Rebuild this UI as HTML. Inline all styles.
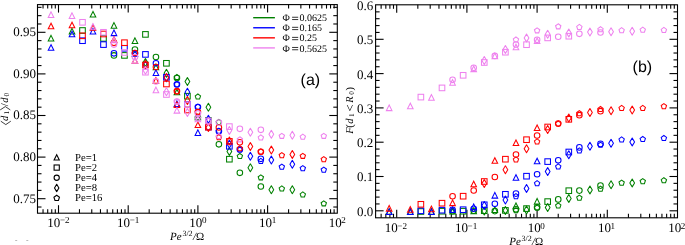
<!DOCTYPE html>
<html><head><meta charset="utf-8"><style>
html,body{margin:0;padding:0;background:#fff;}
body{width:685px;height:245px;overflow:hidden;}
svg{display:block;will-change:transform;}
text{font-family:"Liberation Serif", serif;fill:#000;text-rendering:geometricPrecision;}
.tk{font-size:13px;}
.tkl{font-size:13px;}
.sup{font-size:9.1px;}
.leg{font-size:10px;}
.leg2{font-size:10.7px;}
.pl{font-family:"Liberation Sans", sans-serif;font-size:16px;}
.xl{font-size:11px;}
.xs{font-size:8px;}
.yl{font-size:11.3px;}
.sub{font-size:8px;}
</style></head><body>
<svg width="685" height="245" viewBox="0 0 685 245">
<rect width="685" height="245" fill="#fff"/>
<rect x="37.50" y="4.60" width="299.80" height="208.60" fill="none" stroke="#000" stroke-width="1.1"/>
<line x1="43.04" y1="213.20" x2="43.04" y2="209.20" stroke="#000" stroke-width="1.1"/>
<line x1="43.04" y1="4.60" x2="43.04" y2="8.60" stroke="#000" stroke-width="1.1"/>
<line x1="47.70" y1="213.20" x2="47.70" y2="209.20" stroke="#000" stroke-width="1.1"/>
<line x1="47.70" y1="4.60" x2="47.70" y2="8.60" stroke="#000" stroke-width="1.1"/>
<line x1="51.75" y1="213.20" x2="51.75" y2="209.20" stroke="#000" stroke-width="1.1"/>
<line x1="51.75" y1="4.60" x2="51.75" y2="8.60" stroke="#000" stroke-width="1.1"/>
<line x1="55.31" y1="213.20" x2="55.31" y2="209.20" stroke="#000" stroke-width="1.1"/>
<line x1="55.31" y1="4.60" x2="55.31" y2="8.60" stroke="#000" stroke-width="1.1"/>
<line x1="58.50" y1="213.20" x2="58.50" y2="205.20" stroke="#000" stroke-width="1.1"/>
<line x1="58.50" y1="4.60" x2="58.50" y2="12.60" stroke="#000" stroke-width="1.1"/>
<line x1="79.48" y1="213.20" x2="79.48" y2="209.20" stroke="#000" stroke-width="1.1"/>
<line x1="79.48" y1="4.60" x2="79.48" y2="8.60" stroke="#000" stroke-width="1.1"/>
<line x1="91.76" y1="213.20" x2="91.76" y2="209.20" stroke="#000" stroke-width="1.1"/>
<line x1="91.76" y1="4.60" x2="91.76" y2="8.60" stroke="#000" stroke-width="1.1"/>
<line x1="100.46" y1="213.20" x2="100.46" y2="209.20" stroke="#000" stroke-width="1.1"/>
<line x1="100.46" y1="4.60" x2="100.46" y2="8.60" stroke="#000" stroke-width="1.1"/>
<line x1="107.22" y1="213.20" x2="107.22" y2="209.20" stroke="#000" stroke-width="1.1"/>
<line x1="107.22" y1="4.60" x2="107.22" y2="8.60" stroke="#000" stroke-width="1.1"/>
<line x1="112.74" y1="213.20" x2="112.74" y2="209.20" stroke="#000" stroke-width="1.1"/>
<line x1="112.74" y1="4.60" x2="112.74" y2="8.60" stroke="#000" stroke-width="1.1"/>
<line x1="117.40" y1="213.20" x2="117.40" y2="209.20" stroke="#000" stroke-width="1.1"/>
<line x1="117.40" y1="4.60" x2="117.40" y2="8.60" stroke="#000" stroke-width="1.1"/>
<line x1="121.45" y1="213.20" x2="121.45" y2="209.20" stroke="#000" stroke-width="1.1"/>
<line x1="121.45" y1="4.60" x2="121.45" y2="8.60" stroke="#000" stroke-width="1.1"/>
<line x1="125.01" y1="213.20" x2="125.01" y2="209.20" stroke="#000" stroke-width="1.1"/>
<line x1="125.01" y1="4.60" x2="125.01" y2="8.60" stroke="#000" stroke-width="1.1"/>
<line x1="128.20" y1="213.20" x2="128.20" y2="205.20" stroke="#000" stroke-width="1.1"/>
<line x1="128.20" y1="4.60" x2="128.20" y2="12.60" stroke="#000" stroke-width="1.1"/>
<line x1="149.18" y1="213.20" x2="149.18" y2="209.20" stroke="#000" stroke-width="1.1"/>
<line x1="149.18" y1="4.60" x2="149.18" y2="8.60" stroke="#000" stroke-width="1.1"/>
<line x1="161.46" y1="213.20" x2="161.46" y2="209.20" stroke="#000" stroke-width="1.1"/>
<line x1="161.46" y1="4.60" x2="161.46" y2="8.60" stroke="#000" stroke-width="1.1"/>
<line x1="170.16" y1="213.20" x2="170.16" y2="209.20" stroke="#000" stroke-width="1.1"/>
<line x1="170.16" y1="4.60" x2="170.16" y2="8.60" stroke="#000" stroke-width="1.1"/>
<line x1="176.92" y1="213.20" x2="176.92" y2="209.20" stroke="#000" stroke-width="1.1"/>
<line x1="176.92" y1="4.60" x2="176.92" y2="8.60" stroke="#000" stroke-width="1.1"/>
<line x1="182.44" y1="213.20" x2="182.44" y2="209.20" stroke="#000" stroke-width="1.1"/>
<line x1="182.44" y1="4.60" x2="182.44" y2="8.60" stroke="#000" stroke-width="1.1"/>
<line x1="187.10" y1="213.20" x2="187.10" y2="209.20" stroke="#000" stroke-width="1.1"/>
<line x1="187.10" y1="4.60" x2="187.10" y2="8.60" stroke="#000" stroke-width="1.1"/>
<line x1="191.15" y1="213.20" x2="191.15" y2="209.20" stroke="#000" stroke-width="1.1"/>
<line x1="191.15" y1="4.60" x2="191.15" y2="8.60" stroke="#000" stroke-width="1.1"/>
<line x1="194.71" y1="213.20" x2="194.71" y2="209.20" stroke="#000" stroke-width="1.1"/>
<line x1="194.71" y1="4.60" x2="194.71" y2="8.60" stroke="#000" stroke-width="1.1"/>
<line x1="197.90" y1="213.20" x2="197.90" y2="205.20" stroke="#000" stroke-width="1.1"/>
<line x1="197.90" y1="4.60" x2="197.90" y2="12.60" stroke="#000" stroke-width="1.1"/>
<line x1="218.88" y1="213.20" x2="218.88" y2="209.20" stroke="#000" stroke-width="1.1"/>
<line x1="218.88" y1="4.60" x2="218.88" y2="8.60" stroke="#000" stroke-width="1.1"/>
<line x1="231.16" y1="213.20" x2="231.16" y2="209.20" stroke="#000" stroke-width="1.1"/>
<line x1="231.16" y1="4.60" x2="231.16" y2="8.60" stroke="#000" stroke-width="1.1"/>
<line x1="239.86" y1="213.20" x2="239.86" y2="209.20" stroke="#000" stroke-width="1.1"/>
<line x1="239.86" y1="4.60" x2="239.86" y2="8.60" stroke="#000" stroke-width="1.1"/>
<line x1="246.62" y1="213.20" x2="246.62" y2="209.20" stroke="#000" stroke-width="1.1"/>
<line x1="246.62" y1="4.60" x2="246.62" y2="8.60" stroke="#000" stroke-width="1.1"/>
<line x1="252.14" y1="213.20" x2="252.14" y2="209.20" stroke="#000" stroke-width="1.1"/>
<line x1="252.14" y1="4.60" x2="252.14" y2="8.60" stroke="#000" stroke-width="1.1"/>
<line x1="256.80" y1="213.20" x2="256.80" y2="209.20" stroke="#000" stroke-width="1.1"/>
<line x1="256.80" y1="4.60" x2="256.80" y2="8.60" stroke="#000" stroke-width="1.1"/>
<line x1="260.85" y1="213.20" x2="260.85" y2="209.20" stroke="#000" stroke-width="1.1"/>
<line x1="260.85" y1="4.60" x2="260.85" y2="8.60" stroke="#000" stroke-width="1.1"/>
<line x1="264.41" y1="213.20" x2="264.41" y2="209.20" stroke="#000" stroke-width="1.1"/>
<line x1="264.41" y1="4.60" x2="264.41" y2="8.60" stroke="#000" stroke-width="1.1"/>
<line x1="267.60" y1="213.20" x2="267.60" y2="205.20" stroke="#000" stroke-width="1.1"/>
<line x1="267.60" y1="4.60" x2="267.60" y2="12.60" stroke="#000" stroke-width="1.1"/>
<line x1="288.58" y1="213.20" x2="288.58" y2="209.20" stroke="#000" stroke-width="1.1"/>
<line x1="288.58" y1="4.60" x2="288.58" y2="8.60" stroke="#000" stroke-width="1.1"/>
<line x1="300.86" y1="213.20" x2="300.86" y2="209.20" stroke="#000" stroke-width="1.1"/>
<line x1="300.86" y1="4.60" x2="300.86" y2="8.60" stroke="#000" stroke-width="1.1"/>
<line x1="309.56" y1="213.20" x2="309.56" y2="209.20" stroke="#000" stroke-width="1.1"/>
<line x1="309.56" y1="4.60" x2="309.56" y2="8.60" stroke="#000" stroke-width="1.1"/>
<line x1="316.32" y1="213.20" x2="316.32" y2="209.20" stroke="#000" stroke-width="1.1"/>
<line x1="316.32" y1="4.60" x2="316.32" y2="8.60" stroke="#000" stroke-width="1.1"/>
<line x1="321.84" y1="213.20" x2="321.84" y2="209.20" stroke="#000" stroke-width="1.1"/>
<line x1="321.84" y1="4.60" x2="321.84" y2="8.60" stroke="#000" stroke-width="1.1"/>
<line x1="326.50" y1="213.20" x2="326.50" y2="209.20" stroke="#000" stroke-width="1.1"/>
<line x1="326.50" y1="4.60" x2="326.50" y2="8.60" stroke="#000" stroke-width="1.1"/>
<line x1="330.55" y1="213.20" x2="330.55" y2="209.20" stroke="#000" stroke-width="1.1"/>
<line x1="330.55" y1="4.60" x2="330.55" y2="8.60" stroke="#000" stroke-width="1.1"/>
<line x1="334.11" y1="213.20" x2="334.11" y2="209.20" stroke="#000" stroke-width="1.1"/>
<line x1="334.11" y1="4.60" x2="334.11" y2="8.60" stroke="#000" stroke-width="1.1"/>
<line x1="37.50" y1="198.70" x2="45.50" y2="198.70" stroke="#000" stroke-width="1.1"/>
<line x1="337.30" y1="198.70" x2="329.30" y2="198.70" stroke="#000" stroke-width="1.1"/>
<line x1="37.50" y1="157.10" x2="45.50" y2="157.10" stroke="#000" stroke-width="1.1"/>
<line x1="337.30" y1="157.10" x2="329.30" y2="157.10" stroke="#000" stroke-width="1.1"/>
<line x1="37.50" y1="115.50" x2="45.50" y2="115.50" stroke="#000" stroke-width="1.1"/>
<line x1="337.30" y1="115.50" x2="329.30" y2="115.50" stroke="#000" stroke-width="1.1"/>
<line x1="37.50" y1="73.90" x2="45.50" y2="73.90" stroke="#000" stroke-width="1.1"/>
<line x1="337.30" y1="73.90" x2="329.30" y2="73.90" stroke="#000" stroke-width="1.1"/>
<line x1="37.50" y1="32.30" x2="45.50" y2="32.30" stroke="#000" stroke-width="1.1"/>
<line x1="337.30" y1="32.30" x2="329.30" y2="32.30" stroke="#000" stroke-width="1.1"/>
<line x1="37.50" y1="207.02" x2="41.50" y2="207.02" stroke="#000" stroke-width="1.1"/>
<line x1="337.30" y1="207.02" x2="333.30" y2="207.02" stroke="#000" stroke-width="1.1"/>
<line x1="37.50" y1="190.38" x2="41.50" y2="190.38" stroke="#000" stroke-width="1.1"/>
<line x1="337.30" y1="190.38" x2="333.30" y2="190.38" stroke="#000" stroke-width="1.1"/>
<line x1="37.50" y1="182.06" x2="41.50" y2="182.06" stroke="#000" stroke-width="1.1"/>
<line x1="337.30" y1="182.06" x2="333.30" y2="182.06" stroke="#000" stroke-width="1.1"/>
<line x1="37.50" y1="173.74" x2="41.50" y2="173.74" stroke="#000" stroke-width="1.1"/>
<line x1="337.30" y1="173.74" x2="333.30" y2="173.74" stroke="#000" stroke-width="1.1"/>
<line x1="37.50" y1="165.42" x2="41.50" y2="165.42" stroke="#000" stroke-width="1.1"/>
<line x1="337.30" y1="165.42" x2="333.30" y2="165.42" stroke="#000" stroke-width="1.1"/>
<line x1="37.50" y1="148.78" x2="41.50" y2="148.78" stroke="#000" stroke-width="1.1"/>
<line x1="337.30" y1="148.78" x2="333.30" y2="148.78" stroke="#000" stroke-width="1.1"/>
<line x1="37.50" y1="140.46" x2="41.50" y2="140.46" stroke="#000" stroke-width="1.1"/>
<line x1="337.30" y1="140.46" x2="333.30" y2="140.46" stroke="#000" stroke-width="1.1"/>
<line x1="37.50" y1="132.14" x2="41.50" y2="132.14" stroke="#000" stroke-width="1.1"/>
<line x1="337.30" y1="132.14" x2="333.30" y2="132.14" stroke="#000" stroke-width="1.1"/>
<line x1="37.50" y1="123.82" x2="41.50" y2="123.82" stroke="#000" stroke-width="1.1"/>
<line x1="337.30" y1="123.82" x2="333.30" y2="123.82" stroke="#000" stroke-width="1.1"/>
<line x1="37.50" y1="107.18" x2="41.50" y2="107.18" stroke="#000" stroke-width="1.1"/>
<line x1="337.30" y1="107.18" x2="333.30" y2="107.18" stroke="#000" stroke-width="1.1"/>
<line x1="37.50" y1="98.86" x2="41.50" y2="98.86" stroke="#000" stroke-width="1.1"/>
<line x1="337.30" y1="98.86" x2="333.30" y2="98.86" stroke="#000" stroke-width="1.1"/>
<line x1="37.50" y1="90.54" x2="41.50" y2="90.54" stroke="#000" stroke-width="1.1"/>
<line x1="337.30" y1="90.54" x2="333.30" y2="90.54" stroke="#000" stroke-width="1.1"/>
<line x1="37.50" y1="82.22" x2="41.50" y2="82.22" stroke="#000" stroke-width="1.1"/>
<line x1="337.30" y1="82.22" x2="333.30" y2="82.22" stroke="#000" stroke-width="1.1"/>
<line x1="37.50" y1="65.58" x2="41.50" y2="65.58" stroke="#000" stroke-width="1.1"/>
<line x1="337.30" y1="65.58" x2="333.30" y2="65.58" stroke="#000" stroke-width="1.1"/>
<line x1="37.50" y1="57.26" x2="41.50" y2="57.26" stroke="#000" stroke-width="1.1"/>
<line x1="337.30" y1="57.26" x2="333.30" y2="57.26" stroke="#000" stroke-width="1.1"/>
<line x1="37.50" y1="48.94" x2="41.50" y2="48.94" stroke="#000" stroke-width="1.1"/>
<line x1="337.30" y1="48.94" x2="333.30" y2="48.94" stroke="#000" stroke-width="1.1"/>
<line x1="37.50" y1="40.62" x2="41.50" y2="40.62" stroke="#000" stroke-width="1.1"/>
<line x1="337.30" y1="40.62" x2="333.30" y2="40.62" stroke="#000" stroke-width="1.1"/>
<line x1="37.50" y1="23.98" x2="41.50" y2="23.98" stroke="#000" stroke-width="1.1"/>
<line x1="337.30" y1="23.98" x2="333.30" y2="23.98" stroke="#000" stroke-width="1.1"/>
<line x1="37.50" y1="15.66" x2="41.50" y2="15.66" stroke="#000" stroke-width="1.1"/>
<line x1="337.30" y1="15.66" x2="333.30" y2="15.66" stroke="#000" stroke-width="1.1"/>
<line x1="37.50" y1="7.34" x2="41.50" y2="7.34" stroke="#000" stroke-width="1.1"/>
<line x1="337.30" y1="7.34" x2="333.30" y2="7.34" stroke="#000" stroke-width="1.1"/>
<text x="58.50" y="227.00" class="tk" text-anchor="middle">10<tspan class="sup" dx="-0.4" dy="-3.6">−2</tspan></text>
<text x="128.20" y="227.00" class="tk" text-anchor="middle">10<tspan class="sup" dx="-0.4" dy="-3.6">−1</tspan></text>
<text x="197.90" y="227.00" class="tk" text-anchor="middle">10<tspan class="sup" dx="-0.4" dy="-3.6">0</tspan></text>
<text x="267.60" y="227.00" class="tk" text-anchor="middle">10<tspan class="sup" dx="-0.4" dy="-3.6">1</tspan></text>
<text x="337.30" y="227.00" class="tk" text-anchor="middle">10<tspan class="sup" dx="-0.4" dy="-3.6">2</tspan></text>
<text x="36.0" y="202.60" class="tkl" text-anchor="end">0.75</text>
<text x="36.0" y="161.00" class="tkl" text-anchor="end">0.80</text>
<text x="36.0" y="119.40" class="tkl" text-anchor="end">0.85</text>
<text x="36.0" y="77.80" class="tkl" text-anchor="end">0.90</text>
<text x="36.0" y="36.20" class="tkl" text-anchor="end">0.95</text>
<rect x="375.60" y="4.80" width="301.90" height="213.00" fill="none" stroke="#000" stroke-width="1.1"/>
<line x1="381.13" y1="217.80" x2="381.13" y2="213.80" stroke="#000" stroke-width="1.1"/>
<line x1="381.13" y1="4.80" x2="381.13" y2="8.80" stroke="#000" stroke-width="1.1"/>
<line x1="385.83" y1="217.80" x2="385.83" y2="213.80" stroke="#000" stroke-width="1.1"/>
<line x1="385.83" y1="4.80" x2="385.83" y2="8.80" stroke="#000" stroke-width="1.1"/>
<line x1="389.90" y1="217.80" x2="389.90" y2="213.80" stroke="#000" stroke-width="1.1"/>
<line x1="389.90" y1="4.80" x2="389.90" y2="8.80" stroke="#000" stroke-width="1.1"/>
<line x1="393.49" y1="217.80" x2="393.49" y2="213.80" stroke="#000" stroke-width="1.1"/>
<line x1="393.49" y1="4.80" x2="393.49" y2="8.80" stroke="#000" stroke-width="1.1"/>
<line x1="396.70" y1="217.80" x2="396.70" y2="209.80" stroke="#000" stroke-width="1.1"/>
<line x1="396.70" y1="4.80" x2="396.70" y2="12.80" stroke="#000" stroke-width="1.1"/>
<line x1="417.83" y1="217.80" x2="417.83" y2="213.80" stroke="#000" stroke-width="1.1"/>
<line x1="417.83" y1="4.80" x2="417.83" y2="8.80" stroke="#000" stroke-width="1.1"/>
<line x1="430.19" y1="217.80" x2="430.19" y2="213.80" stroke="#000" stroke-width="1.1"/>
<line x1="430.19" y1="4.80" x2="430.19" y2="8.80" stroke="#000" stroke-width="1.1"/>
<line x1="438.96" y1="217.80" x2="438.96" y2="213.80" stroke="#000" stroke-width="1.1"/>
<line x1="438.96" y1="4.80" x2="438.96" y2="8.80" stroke="#000" stroke-width="1.1"/>
<line x1="445.77" y1="217.80" x2="445.77" y2="213.80" stroke="#000" stroke-width="1.1"/>
<line x1="445.77" y1="4.80" x2="445.77" y2="8.80" stroke="#000" stroke-width="1.1"/>
<line x1="451.33" y1="217.80" x2="451.33" y2="213.80" stroke="#000" stroke-width="1.1"/>
<line x1="451.33" y1="4.80" x2="451.33" y2="8.80" stroke="#000" stroke-width="1.1"/>
<line x1="456.03" y1="217.80" x2="456.03" y2="213.80" stroke="#000" stroke-width="1.1"/>
<line x1="456.03" y1="4.80" x2="456.03" y2="8.80" stroke="#000" stroke-width="1.1"/>
<line x1="460.10" y1="217.80" x2="460.10" y2="213.80" stroke="#000" stroke-width="1.1"/>
<line x1="460.10" y1="4.80" x2="460.10" y2="8.80" stroke="#000" stroke-width="1.1"/>
<line x1="463.69" y1="217.80" x2="463.69" y2="213.80" stroke="#000" stroke-width="1.1"/>
<line x1="463.69" y1="4.80" x2="463.69" y2="8.80" stroke="#000" stroke-width="1.1"/>
<line x1="466.90" y1="217.80" x2="466.90" y2="209.80" stroke="#000" stroke-width="1.1"/>
<line x1="466.90" y1="4.80" x2="466.90" y2="12.80" stroke="#000" stroke-width="1.1"/>
<line x1="488.03" y1="217.80" x2="488.03" y2="213.80" stroke="#000" stroke-width="1.1"/>
<line x1="488.03" y1="4.80" x2="488.03" y2="8.80" stroke="#000" stroke-width="1.1"/>
<line x1="500.39" y1="217.80" x2="500.39" y2="213.80" stroke="#000" stroke-width="1.1"/>
<line x1="500.39" y1="4.80" x2="500.39" y2="8.80" stroke="#000" stroke-width="1.1"/>
<line x1="509.16" y1="217.80" x2="509.16" y2="213.80" stroke="#000" stroke-width="1.1"/>
<line x1="509.16" y1="4.80" x2="509.16" y2="8.80" stroke="#000" stroke-width="1.1"/>
<line x1="515.97" y1="217.80" x2="515.97" y2="213.80" stroke="#000" stroke-width="1.1"/>
<line x1="515.97" y1="4.80" x2="515.97" y2="8.80" stroke="#000" stroke-width="1.1"/>
<line x1="521.53" y1="217.80" x2="521.53" y2="213.80" stroke="#000" stroke-width="1.1"/>
<line x1="521.53" y1="4.80" x2="521.53" y2="8.80" stroke="#000" stroke-width="1.1"/>
<line x1="526.23" y1="217.80" x2="526.23" y2="213.80" stroke="#000" stroke-width="1.1"/>
<line x1="526.23" y1="4.80" x2="526.23" y2="8.80" stroke="#000" stroke-width="1.1"/>
<line x1="530.30" y1="217.80" x2="530.30" y2="213.80" stroke="#000" stroke-width="1.1"/>
<line x1="530.30" y1="4.80" x2="530.30" y2="8.80" stroke="#000" stroke-width="1.1"/>
<line x1="533.89" y1="217.80" x2="533.89" y2="213.80" stroke="#000" stroke-width="1.1"/>
<line x1="533.89" y1="4.80" x2="533.89" y2="8.80" stroke="#000" stroke-width="1.1"/>
<line x1="537.10" y1="217.80" x2="537.10" y2="209.80" stroke="#000" stroke-width="1.1"/>
<line x1="537.10" y1="4.80" x2="537.10" y2="12.80" stroke="#000" stroke-width="1.1"/>
<line x1="558.23" y1="217.80" x2="558.23" y2="213.80" stroke="#000" stroke-width="1.1"/>
<line x1="558.23" y1="4.80" x2="558.23" y2="8.80" stroke="#000" stroke-width="1.1"/>
<line x1="570.59" y1="217.80" x2="570.59" y2="213.80" stroke="#000" stroke-width="1.1"/>
<line x1="570.59" y1="4.80" x2="570.59" y2="8.80" stroke="#000" stroke-width="1.1"/>
<line x1="579.36" y1="217.80" x2="579.36" y2="213.80" stroke="#000" stroke-width="1.1"/>
<line x1="579.36" y1="4.80" x2="579.36" y2="8.80" stroke="#000" stroke-width="1.1"/>
<line x1="586.17" y1="217.80" x2="586.17" y2="213.80" stroke="#000" stroke-width="1.1"/>
<line x1="586.17" y1="4.80" x2="586.17" y2="8.80" stroke="#000" stroke-width="1.1"/>
<line x1="591.73" y1="217.80" x2="591.73" y2="213.80" stroke="#000" stroke-width="1.1"/>
<line x1="591.73" y1="4.80" x2="591.73" y2="8.80" stroke="#000" stroke-width="1.1"/>
<line x1="596.43" y1="217.80" x2="596.43" y2="213.80" stroke="#000" stroke-width="1.1"/>
<line x1="596.43" y1="4.80" x2="596.43" y2="8.80" stroke="#000" stroke-width="1.1"/>
<line x1="600.50" y1="217.80" x2="600.50" y2="213.80" stroke="#000" stroke-width="1.1"/>
<line x1="600.50" y1="4.80" x2="600.50" y2="8.80" stroke="#000" stroke-width="1.1"/>
<line x1="604.09" y1="217.80" x2="604.09" y2="213.80" stroke="#000" stroke-width="1.1"/>
<line x1="604.09" y1="4.80" x2="604.09" y2="8.80" stroke="#000" stroke-width="1.1"/>
<line x1="607.30" y1="217.80" x2="607.30" y2="209.80" stroke="#000" stroke-width="1.1"/>
<line x1="607.30" y1="4.80" x2="607.30" y2="12.80" stroke="#000" stroke-width="1.1"/>
<line x1="628.43" y1="217.80" x2="628.43" y2="213.80" stroke="#000" stroke-width="1.1"/>
<line x1="628.43" y1="4.80" x2="628.43" y2="8.80" stroke="#000" stroke-width="1.1"/>
<line x1="640.79" y1="217.80" x2="640.79" y2="213.80" stroke="#000" stroke-width="1.1"/>
<line x1="640.79" y1="4.80" x2="640.79" y2="8.80" stroke="#000" stroke-width="1.1"/>
<line x1="649.56" y1="217.80" x2="649.56" y2="213.80" stroke="#000" stroke-width="1.1"/>
<line x1="649.56" y1="4.80" x2="649.56" y2="8.80" stroke="#000" stroke-width="1.1"/>
<line x1="656.37" y1="217.80" x2="656.37" y2="213.80" stroke="#000" stroke-width="1.1"/>
<line x1="656.37" y1="4.80" x2="656.37" y2="8.80" stroke="#000" stroke-width="1.1"/>
<line x1="661.93" y1="217.80" x2="661.93" y2="213.80" stroke="#000" stroke-width="1.1"/>
<line x1="661.93" y1="4.80" x2="661.93" y2="8.80" stroke="#000" stroke-width="1.1"/>
<line x1="666.63" y1="217.80" x2="666.63" y2="213.80" stroke="#000" stroke-width="1.1"/>
<line x1="666.63" y1="4.80" x2="666.63" y2="8.80" stroke="#000" stroke-width="1.1"/>
<line x1="670.70" y1="217.80" x2="670.70" y2="213.80" stroke="#000" stroke-width="1.1"/>
<line x1="670.70" y1="4.80" x2="670.70" y2="8.80" stroke="#000" stroke-width="1.1"/>
<line x1="674.29" y1="217.80" x2="674.29" y2="213.80" stroke="#000" stroke-width="1.1"/>
<line x1="674.29" y1="4.80" x2="674.29" y2="8.80" stroke="#000" stroke-width="1.1"/>
<line x1="375.60" y1="210.80" x2="383.60" y2="210.80" stroke="#000" stroke-width="1.1"/>
<line x1="677.50" y1="210.80" x2="669.50" y2="210.80" stroke="#000" stroke-width="1.1"/>
<line x1="375.60" y1="176.50" x2="383.60" y2="176.50" stroke="#000" stroke-width="1.1"/>
<line x1="677.50" y1="176.50" x2="669.50" y2="176.50" stroke="#000" stroke-width="1.1"/>
<line x1="375.60" y1="142.20" x2="383.60" y2="142.20" stroke="#000" stroke-width="1.1"/>
<line x1="677.50" y1="142.20" x2="669.50" y2="142.20" stroke="#000" stroke-width="1.1"/>
<line x1="375.60" y1="107.90" x2="383.60" y2="107.90" stroke="#000" stroke-width="1.1"/>
<line x1="677.50" y1="107.90" x2="669.50" y2="107.90" stroke="#000" stroke-width="1.1"/>
<line x1="375.60" y1="73.60" x2="383.60" y2="73.60" stroke="#000" stroke-width="1.1"/>
<line x1="677.50" y1="73.60" x2="669.50" y2="73.60" stroke="#000" stroke-width="1.1"/>
<line x1="375.60" y1="39.30" x2="383.60" y2="39.30" stroke="#000" stroke-width="1.1"/>
<line x1="677.50" y1="39.30" x2="669.50" y2="39.30" stroke="#000" stroke-width="1.1"/>
<line x1="375.60" y1="203.94" x2="379.60" y2="203.94" stroke="#000" stroke-width="1.1"/>
<line x1="677.50" y1="203.94" x2="673.50" y2="203.94" stroke="#000" stroke-width="1.1"/>
<line x1="375.60" y1="197.08" x2="379.60" y2="197.08" stroke="#000" stroke-width="1.1"/>
<line x1="677.50" y1="197.08" x2="673.50" y2="197.08" stroke="#000" stroke-width="1.1"/>
<line x1="375.60" y1="190.22" x2="379.60" y2="190.22" stroke="#000" stroke-width="1.1"/>
<line x1="677.50" y1="190.22" x2="673.50" y2="190.22" stroke="#000" stroke-width="1.1"/>
<line x1="375.60" y1="183.36" x2="379.60" y2="183.36" stroke="#000" stroke-width="1.1"/>
<line x1="677.50" y1="183.36" x2="673.50" y2="183.36" stroke="#000" stroke-width="1.1"/>
<line x1="375.60" y1="169.64" x2="379.60" y2="169.64" stroke="#000" stroke-width="1.1"/>
<line x1="677.50" y1="169.64" x2="673.50" y2="169.64" stroke="#000" stroke-width="1.1"/>
<line x1="375.60" y1="162.78" x2="379.60" y2="162.78" stroke="#000" stroke-width="1.1"/>
<line x1="677.50" y1="162.78" x2="673.50" y2="162.78" stroke="#000" stroke-width="1.1"/>
<line x1="375.60" y1="155.92" x2="379.60" y2="155.92" stroke="#000" stroke-width="1.1"/>
<line x1="677.50" y1="155.92" x2="673.50" y2="155.92" stroke="#000" stroke-width="1.1"/>
<line x1="375.60" y1="149.06" x2="379.60" y2="149.06" stroke="#000" stroke-width="1.1"/>
<line x1="677.50" y1="149.06" x2="673.50" y2="149.06" stroke="#000" stroke-width="1.1"/>
<line x1="375.60" y1="135.34" x2="379.60" y2="135.34" stroke="#000" stroke-width="1.1"/>
<line x1="677.50" y1="135.34" x2="673.50" y2="135.34" stroke="#000" stroke-width="1.1"/>
<line x1="375.60" y1="128.48" x2="379.60" y2="128.48" stroke="#000" stroke-width="1.1"/>
<line x1="677.50" y1="128.48" x2="673.50" y2="128.48" stroke="#000" stroke-width="1.1"/>
<line x1="375.60" y1="121.62" x2="379.60" y2="121.62" stroke="#000" stroke-width="1.1"/>
<line x1="677.50" y1="121.62" x2="673.50" y2="121.62" stroke="#000" stroke-width="1.1"/>
<line x1="375.60" y1="114.76" x2="379.60" y2="114.76" stroke="#000" stroke-width="1.1"/>
<line x1="677.50" y1="114.76" x2="673.50" y2="114.76" stroke="#000" stroke-width="1.1"/>
<line x1="375.60" y1="101.04" x2="379.60" y2="101.04" stroke="#000" stroke-width="1.1"/>
<line x1="677.50" y1="101.04" x2="673.50" y2="101.04" stroke="#000" stroke-width="1.1"/>
<line x1="375.60" y1="94.18" x2="379.60" y2="94.18" stroke="#000" stroke-width="1.1"/>
<line x1="677.50" y1="94.18" x2="673.50" y2="94.18" stroke="#000" stroke-width="1.1"/>
<line x1="375.60" y1="87.32" x2="379.60" y2="87.32" stroke="#000" stroke-width="1.1"/>
<line x1="677.50" y1="87.32" x2="673.50" y2="87.32" stroke="#000" stroke-width="1.1"/>
<line x1="375.60" y1="80.46" x2="379.60" y2="80.46" stroke="#000" stroke-width="1.1"/>
<line x1="677.50" y1="80.46" x2="673.50" y2="80.46" stroke="#000" stroke-width="1.1"/>
<line x1="375.60" y1="66.74" x2="379.60" y2="66.74" stroke="#000" stroke-width="1.1"/>
<line x1="677.50" y1="66.74" x2="673.50" y2="66.74" stroke="#000" stroke-width="1.1"/>
<line x1="375.60" y1="59.88" x2="379.60" y2="59.88" stroke="#000" stroke-width="1.1"/>
<line x1="677.50" y1="59.88" x2="673.50" y2="59.88" stroke="#000" stroke-width="1.1"/>
<line x1="375.60" y1="53.02" x2="379.60" y2="53.02" stroke="#000" stroke-width="1.1"/>
<line x1="677.50" y1="53.02" x2="673.50" y2="53.02" stroke="#000" stroke-width="1.1"/>
<line x1="375.60" y1="46.16" x2="379.60" y2="46.16" stroke="#000" stroke-width="1.1"/>
<line x1="677.50" y1="46.16" x2="673.50" y2="46.16" stroke="#000" stroke-width="1.1"/>
<line x1="375.60" y1="32.44" x2="379.60" y2="32.44" stroke="#000" stroke-width="1.1"/>
<line x1="677.50" y1="32.44" x2="673.50" y2="32.44" stroke="#000" stroke-width="1.1"/>
<line x1="375.60" y1="25.58" x2="379.60" y2="25.58" stroke="#000" stroke-width="1.1"/>
<line x1="677.50" y1="25.58" x2="673.50" y2="25.58" stroke="#000" stroke-width="1.1"/>
<line x1="375.60" y1="18.72" x2="379.60" y2="18.72" stroke="#000" stroke-width="1.1"/>
<line x1="677.50" y1="18.72" x2="673.50" y2="18.72" stroke="#000" stroke-width="1.1"/>
<line x1="375.60" y1="11.86" x2="379.60" y2="11.86" stroke="#000" stroke-width="1.1"/>
<line x1="677.50" y1="11.86" x2="673.50" y2="11.86" stroke="#000" stroke-width="1.1"/>
<text x="395.90" y="232.30" class="tk" text-anchor="middle">10<tspan class="sup" dx="-0.4" dy="-3.6">−2</tspan></text>
<text x="466.10" y="232.30" class="tk" text-anchor="middle">10<tspan class="sup" dx="-0.4" dy="-3.6">−1</tspan></text>
<text x="536.30" y="232.30" class="tk" text-anchor="middle">10<tspan class="sup" dx="-0.4" dy="-3.6">0</tspan></text>
<text x="606.50" y="232.30" class="tk" text-anchor="middle">10<tspan class="sup" dx="-0.4" dy="-3.6">1</tspan></text>
<text x="676.70" y="232.30" class="tk" text-anchor="middle">10<tspan class="sup" dx="-0.4" dy="-3.6">2</tspan></text>
<text x="373.3" y="215.70" class="tkl" text-anchor="end">0.0</text>
<text x="373.3" y="181.40" class="tkl" text-anchor="end">0.1</text>
<text x="373.3" y="147.10" class="tkl" text-anchor="end">0.2</text>
<text x="373.3" y="112.80" class="tkl" text-anchor="end">0.3</text>
<text x="373.3" y="78.50" class="tkl" text-anchor="end">0.4</text>
<text x="373.3" y="44.20" class="tkl" text-anchor="end">0.5</text>
<text x="373.3" y="9.90" class="tkl" text-anchor="end">0.6</text>
<polygon points="51.03,35.30 48.23,40.90 53.83,40.90" fill="none" stroke="#008000" stroke-width="1.05" stroke-linejoin="miter"/>
<polygon points="72.01,28.30 69.21,33.90 74.81,33.90" fill="none" stroke="#008000" stroke-width="1.05" stroke-linejoin="miter"/>
<polygon points="92.99,11.40 90.19,17.00 95.79,17.00" fill="none" stroke="#008000" stroke-width="1.05" stroke-linejoin="miter"/>
<polygon points="113.97,22.60 111.17,28.20 116.77,28.20" fill="none" stroke="#008000" stroke-width="1.05" stroke-linejoin="miter"/>
<polygon points="134.95,37.80 132.15,43.40 137.75,43.40" fill="none" stroke="#008000" stroke-width="1.05" stroke-linejoin="miter"/>
<polygon points="155.94,64.20 153.14,69.80 158.74,69.80" fill="none" stroke="#008000" stroke-width="1.05" stroke-linejoin="miter"/>
<polygon points="176.92,89.20 174.12,94.80 179.72,94.80" fill="none" stroke="#008000" stroke-width="1.05" stroke-linejoin="miter"/>
<polygon points="197.90,114.20 195.10,119.80 200.70,119.80" fill="none" stroke="#008000" stroke-width="1.05" stroke-linejoin="miter"/>
<rect x="79.70" y="27.70" width="5.60" height="5.60" fill="none" stroke="#008000" stroke-width="1.05"/>
<rect x="100.68" y="35.60" width="5.60" height="5.60" fill="none" stroke="#008000" stroke-width="1.05"/>
<rect x="121.66" y="52.60" width="5.60" height="5.60" fill="none" stroke="#008000" stroke-width="1.05"/>
<rect x="142.65" y="31.60" width="5.60" height="5.60" fill="none" stroke="#008000" stroke-width="1.05"/>
<rect x="163.63" y="60.50" width="5.60" height="5.60" fill="none" stroke="#008000" stroke-width="1.05"/>
<rect x="184.61" y="93.40" width="5.60" height="5.60" fill="none" stroke="#008000" stroke-width="1.05"/>
<rect x="205.59" y="117.70" width="5.60" height="5.60" fill="none" stroke="#008000" stroke-width="1.05"/>
<rect x="226.57" y="156.40" width="5.60" height="5.60" fill="none" stroke="#008000" stroke-width="1.05"/>
<circle cx="113.97" cy="55.40" r="2.80" fill="none" stroke="#008000" stroke-width="1.05"/>
<circle cx="134.95" cy="49.60" r="2.80" fill="none" stroke="#008000" stroke-width="1.05"/>
<circle cx="155.94" cy="57.10" r="2.80" fill="none" stroke="#008000" stroke-width="1.05"/>
<circle cx="176.92" cy="78.00" r="2.80" fill="none" stroke="#008000" stroke-width="1.05"/>
<circle cx="197.90" cy="117.50" r="2.80" fill="none" stroke="#008000" stroke-width="1.05"/>
<circle cx="218.88" cy="144.30" r="2.80" fill="none" stroke="#008000" stroke-width="1.05"/>
<circle cx="239.86" cy="172.80" r="2.80" fill="none" stroke="#008000" stroke-width="1.05"/>
<circle cx="260.85" cy="186.50" r="2.80" fill="none" stroke="#008000" stroke-width="1.05"/>
<polygon points="145.45,58.54 147.82,62.50 145.45,66.46 143.07,62.50" fill="none" stroke="#008000" stroke-width="1.05" stroke-linejoin="round"/>
<polygon points="166.43,69.34 168.80,73.30 166.43,77.26 164.05,73.30" fill="none" stroke="#008000" stroke-width="1.05" stroke-linejoin="round"/>
<polygon points="187.41,77.64 189.78,81.60 187.41,85.56 185.03,81.60" fill="none" stroke="#008000" stroke-width="1.05" stroke-linejoin="round"/>
<polygon points="208.39,103.24 210.77,107.20 208.39,111.16 206.02,107.20" fill="none" stroke="#008000" stroke-width="1.05" stroke-linejoin="round"/>
<polygon points="229.37,147.44 231.75,151.40 229.37,155.36 227.00,151.40" fill="none" stroke="#008000" stroke-width="1.05" stroke-linejoin="round"/>
<polygon points="250.35,163.84 252.73,167.80 250.35,171.76 247.98,167.80" fill="none" stroke="#008000" stroke-width="1.05" stroke-linejoin="round"/>
<polygon points="271.34,185.74 273.71,189.70 271.34,193.66 268.96,189.70" fill="none" stroke="#008000" stroke-width="1.05" stroke-linejoin="round"/>
<polygon points="292.32,185.74 294.69,189.70 292.32,193.66 289.94,189.70" fill="none" stroke="#008000" stroke-width="1.05" stroke-linejoin="round"/>
<polygon points="176.92,74.50 179.58,76.43 178.56,79.57 175.27,79.57 174.26,76.43" fill="none" stroke="#008000" stroke-width="1.05"/>
<polygon points="197.90,94.00 200.56,95.93 199.55,99.07 196.25,99.07 195.24,95.93" fill="none" stroke="#008000" stroke-width="1.05"/>
<polygon points="218.88,119.40 221.54,121.33 220.53,124.47 217.24,124.47 216.22,121.33" fill="none" stroke="#008000" stroke-width="1.05"/>
<polygon points="239.86,153.50 242.53,155.43 241.51,158.57 238.22,158.57 237.20,155.43" fill="none" stroke="#008000" stroke-width="1.05"/>
<polygon points="260.85,174.80 263.51,176.73 262.49,179.87 259.20,179.87 258.18,176.73" fill="none" stroke="#008000" stroke-width="1.05"/>
<polygon points="281.83,185.90 284.49,187.83 283.47,190.97 280.18,190.97 279.16,187.83" fill="none" stroke="#008000" stroke-width="1.05"/>
<polygon points="302.81,191.90 305.47,193.83 304.45,196.97 301.16,196.97 300.15,193.83" fill="none" stroke="#008000" stroke-width="1.05"/>
<polygon points="323.79,200.80 326.45,202.73 325.44,205.87 322.14,205.87 321.13,202.73" fill="none" stroke="#008000" stroke-width="1.05"/>
<polygon points="51.03,44.70 48.23,50.30 53.83,50.30" fill="none" stroke="#0000ff" stroke-width="1.05" stroke-linejoin="miter"/>
<polygon points="72.01,31.20 69.21,36.80 74.81,36.80" fill="none" stroke="#0000ff" stroke-width="1.05" stroke-linejoin="miter"/>
<polygon points="92.99,28.30 90.19,33.90 95.79,33.90" fill="none" stroke="#0000ff" stroke-width="1.05" stroke-linejoin="miter"/>
<polygon points="113.97,30.00 111.17,35.60 116.77,35.60" fill="none" stroke="#0000ff" stroke-width="1.05" stroke-linejoin="miter"/>
<polygon points="134.95,50.70 132.15,56.30 137.75,56.30" fill="none" stroke="#0000ff" stroke-width="1.05" stroke-linejoin="miter"/>
<polygon points="155.94,69.80 153.14,75.40 158.74,75.40" fill="none" stroke="#0000ff" stroke-width="1.05" stroke-linejoin="miter"/>
<polygon points="176.92,100.90 174.12,106.50 179.72,106.50" fill="none" stroke="#0000ff" stroke-width="1.05" stroke-linejoin="miter"/>
<polygon points="197.90,129.80 195.10,135.40 200.70,135.40" fill="none" stroke="#0000ff" stroke-width="1.05" stroke-linejoin="miter"/>
<rect x="79.70" y="37.90" width="5.60" height="5.60" fill="none" stroke="#0000ff" stroke-width="1.05"/>
<rect x="100.68" y="41.80" width="5.60" height="5.60" fill="none" stroke="#0000ff" stroke-width="1.05"/>
<rect x="121.66" y="45.50" width="5.60" height="5.60" fill="none" stroke="#0000ff" stroke-width="1.05"/>
<rect x="142.65" y="51.60" width="5.60" height="5.60" fill="none" stroke="#0000ff" stroke-width="1.05"/>
<rect x="163.63" y="74.50" width="5.60" height="5.60" fill="none" stroke="#0000ff" stroke-width="1.05"/>
<rect x="184.61" y="101.80" width="5.60" height="5.60" fill="none" stroke="#0000ff" stroke-width="1.05"/>
<rect x="205.59" y="124.20" width="5.60" height="5.60" fill="none" stroke="#0000ff" stroke-width="1.05"/>
<rect x="226.57" y="143.50" width="5.60" height="5.60" fill="none" stroke="#0000ff" stroke-width="1.05"/>
<circle cx="113.97" cy="53.30" r="2.80" fill="none" stroke="#0000ff" stroke-width="1.05"/>
<circle cx="134.95" cy="53.20" r="2.80" fill="none" stroke="#0000ff" stroke-width="1.05"/>
<circle cx="155.94" cy="63.20" r="2.80" fill="none" stroke="#0000ff" stroke-width="1.05"/>
<circle cx="176.92" cy="84.40" r="2.80" fill="none" stroke="#0000ff" stroke-width="1.05"/>
<circle cx="197.90" cy="107.00" r="2.80" fill="none" stroke="#0000ff" stroke-width="1.05"/>
<circle cx="218.88" cy="131.30" r="2.80" fill="none" stroke="#0000ff" stroke-width="1.05"/>
<circle cx="239.86" cy="149.50" r="2.80" fill="none" stroke="#0000ff" stroke-width="1.05"/>
<circle cx="260.85" cy="158.80" r="2.80" fill="none" stroke="#0000ff" stroke-width="1.05"/>
<polygon points="145.45,61.04 147.82,65.00 145.45,68.96 143.07,65.00" fill="none" stroke="#0000ff" stroke-width="1.05" stroke-linejoin="round"/>
<polygon points="166.43,73.84 168.80,77.80 166.43,81.76 164.05,77.80" fill="none" stroke="#0000ff" stroke-width="1.05" stroke-linejoin="round"/>
<polygon points="187.41,88.24 189.78,92.20 187.41,96.16 185.03,92.20" fill="none" stroke="#0000ff" stroke-width="1.05" stroke-linejoin="round"/>
<polygon points="208.39,115.24 210.77,119.20 208.39,123.16 206.02,119.20" fill="none" stroke="#0000ff" stroke-width="1.05" stroke-linejoin="round"/>
<polygon points="229.37,140.04 231.75,144.00 229.37,147.96 227.00,144.00" fill="none" stroke="#0000ff" stroke-width="1.05" stroke-linejoin="round"/>
<polygon points="250.35,152.34 252.73,156.30 250.35,160.26 247.98,156.30" fill="none" stroke="#0000ff" stroke-width="1.05" stroke-linejoin="round"/>
<polygon points="271.34,156.04 273.71,160.00 271.34,163.96 268.96,160.00" fill="none" stroke="#0000ff" stroke-width="1.05" stroke-linejoin="round"/>
<polygon points="292.32,160.34 294.69,164.30 292.32,168.26 289.94,164.30" fill="none" stroke="#0000ff" stroke-width="1.05" stroke-linejoin="round"/>
<polygon points="176.92,81.60 179.58,83.53 178.56,86.67 175.27,86.67 174.26,83.53" fill="none" stroke="#0000ff" stroke-width="1.05"/>
<polygon points="197.90,104.20 200.56,106.13 199.55,109.27 196.25,109.27 195.24,106.13" fill="none" stroke="#0000ff" stroke-width="1.05"/>
<polygon points="218.88,128.20 221.54,130.13 220.53,133.27 217.24,133.27 216.22,130.13" fill="none" stroke="#0000ff" stroke-width="1.05"/>
<polygon points="239.86,147.00 242.53,148.93 241.51,152.07 238.22,152.07 237.20,148.93" fill="none" stroke="#0000ff" stroke-width="1.05"/>
<polygon points="260.85,158.40 263.51,160.33 262.49,163.47 259.20,163.47 258.18,160.33" fill="none" stroke="#0000ff" stroke-width="1.05"/>
<polygon points="281.83,164.10 284.49,166.03 283.47,169.17 280.18,169.17 279.16,166.03" fill="none" stroke="#0000ff" stroke-width="1.05"/>
<polygon points="302.81,165.60 305.47,167.53 304.45,170.67 301.16,170.67 300.15,167.53" fill="none" stroke="#0000ff" stroke-width="1.05"/>
<polygon points="323.79,167.10 326.45,169.03 325.44,172.17 322.14,172.17 321.13,169.03" fill="none" stroke="#0000ff" stroke-width="1.05"/>
<polygon points="51.03,23.20 48.23,28.80 53.83,28.80" fill="none" stroke="#ff0000" stroke-width="1.05" stroke-linejoin="miter"/>
<polygon points="72.01,22.20 69.21,27.80 74.81,27.80" fill="none" stroke="#ff0000" stroke-width="1.05" stroke-linejoin="miter"/>
<polygon points="92.99,24.70 90.19,30.30 95.79,30.30" fill="none" stroke="#ff0000" stroke-width="1.05" stroke-linejoin="miter"/>
<polygon points="113.97,36.70 111.17,42.30 116.77,42.30" fill="none" stroke="#ff0000" stroke-width="1.05" stroke-linejoin="miter"/>
<polygon points="134.95,57.70 132.15,63.30 137.75,63.30" fill="none" stroke="#ff0000" stroke-width="1.05" stroke-linejoin="miter"/>
<polygon points="155.94,77.60 153.14,83.20 158.74,83.20" fill="none" stroke="#ff0000" stroke-width="1.05" stroke-linejoin="miter"/>
<polygon points="176.92,101.80 174.12,107.40 179.72,107.40" fill="none" stroke="#ff0000" stroke-width="1.05" stroke-linejoin="miter"/>
<polygon points="197.90,121.90 195.10,127.50 200.70,127.50" fill="none" stroke="#ff0000" stroke-width="1.05" stroke-linejoin="miter"/>
<rect x="79.70" y="33.00" width="5.60" height="5.60" fill="none" stroke="#ff0000" stroke-width="1.05"/>
<rect x="100.68" y="31.20" width="5.60" height="5.60" fill="none" stroke="#ff0000" stroke-width="1.05"/>
<rect x="121.66" y="39.90" width="5.60" height="5.60" fill="none" stroke="#ff0000" stroke-width="1.05"/>
<rect x="142.65" y="62.20" width="5.60" height="5.60" fill="none" stroke="#ff0000" stroke-width="1.05"/>
<rect x="163.63" y="81.20" width="5.60" height="5.60" fill="none" stroke="#ff0000" stroke-width="1.05"/>
<rect x="184.61" y="107.20" width="5.60" height="5.60" fill="none" stroke="#ff0000" stroke-width="1.05"/>
<rect x="205.59" y="124.40" width="5.60" height="5.60" fill="none" stroke="#ff0000" stroke-width="1.05"/>
<rect x="226.57" y="138.60" width="5.60" height="5.60" fill="none" stroke="#ff0000" stroke-width="1.05"/>
<circle cx="113.97" cy="42.80" r="2.80" fill="none" stroke="#ff0000" stroke-width="1.05"/>
<circle cx="134.95" cy="53.00" r="2.80" fill="none" stroke="#ff0000" stroke-width="1.05"/>
<circle cx="155.94" cy="67.00" r="2.80" fill="none" stroke="#ff0000" stroke-width="1.05"/>
<circle cx="176.92" cy="91.20" r="2.80" fill="none" stroke="#ff0000" stroke-width="1.05"/>
<circle cx="197.90" cy="112.00" r="2.80" fill="none" stroke="#ff0000" stroke-width="1.05"/>
<circle cx="218.88" cy="127.50" r="2.80" fill="none" stroke="#ff0000" stroke-width="1.05"/>
<circle cx="239.86" cy="142.20" r="2.80" fill="none" stroke="#ff0000" stroke-width="1.05"/>
<circle cx="260.85" cy="151.70" r="2.80" fill="none" stroke="#ff0000" stroke-width="1.05"/>
<polygon points="145.45,60.54 147.82,64.50 145.45,68.46 143.07,64.50" fill="none" stroke="#ff0000" stroke-width="1.05" stroke-linejoin="round"/>
<polygon points="166.43,73.64 168.80,77.60 166.43,81.56 164.05,77.60" fill="none" stroke="#ff0000" stroke-width="1.05" stroke-linejoin="round"/>
<polygon points="187.41,96.54 189.78,100.50 187.41,104.46 185.03,100.50" fill="none" stroke="#ff0000" stroke-width="1.05" stroke-linejoin="round"/>
<polygon points="208.39,123.54 210.77,127.50 208.39,131.46 206.02,127.50" fill="none" stroke="#ff0000" stroke-width="1.05" stroke-linejoin="round"/>
<polygon points="229.37,137.04 231.75,141.00 229.37,144.96 227.00,141.00" fill="none" stroke="#ff0000" stroke-width="1.05" stroke-linejoin="round"/>
<polygon points="250.35,142.64 252.73,146.60 250.35,150.56 247.98,146.60" fill="none" stroke="#ff0000" stroke-width="1.05" stroke-linejoin="round"/>
<polygon points="271.34,146.14 273.71,150.10 271.34,154.06 268.96,150.10" fill="none" stroke="#ff0000" stroke-width="1.05" stroke-linejoin="round"/>
<polygon points="292.32,150.44 294.69,154.40 292.32,158.36 289.94,154.40" fill="none" stroke="#ff0000" stroke-width="1.05" stroke-linejoin="round"/>
<polygon points="176.92,88.60 179.58,90.53 178.56,93.67 175.27,93.67 174.26,90.53" fill="none" stroke="#ff0000" stroke-width="1.05"/>
<polygon points="197.90,109.20 200.56,111.13 199.55,114.27 196.25,114.27 195.24,111.13" fill="none" stroke="#ff0000" stroke-width="1.05"/>
<polygon points="218.88,134.70 221.54,136.63 220.53,139.77 217.24,139.77 216.22,136.63" fill="none" stroke="#ff0000" stroke-width="1.05"/>
<polygon points="239.86,145.70 242.53,147.63 241.51,150.77 238.22,150.77 237.20,147.63" fill="none" stroke="#ff0000" stroke-width="1.05"/>
<polygon points="260.85,148.90 263.51,150.83 262.49,153.97 259.20,153.97 258.18,150.83" fill="none" stroke="#ff0000" stroke-width="1.05"/>
<polygon points="281.83,152.60 284.49,154.53 283.47,157.67 280.18,157.67 279.16,154.53" fill="none" stroke="#ff0000" stroke-width="1.05"/>
<polygon points="302.81,153.30 305.47,155.23 304.45,158.37 301.16,158.37 300.15,155.23" fill="none" stroke="#ff0000" stroke-width="1.05"/>
<polygon points="323.79,156.60 326.45,158.53 325.44,161.67 322.14,161.67 321.13,158.53" fill="none" stroke="#ff0000" stroke-width="1.05"/>
<polygon points="51.03,11.80 48.23,17.40 53.83,17.40" fill="none" stroke="#ee82ee" stroke-width="1.05" stroke-linejoin="miter"/>
<polygon points="72.01,12.80 69.21,18.40 74.81,18.40" fill="none" stroke="#ee82ee" stroke-width="1.05" stroke-linejoin="miter"/>
<polygon points="92.99,23.60 90.19,29.20 95.79,29.20" fill="none" stroke="#ee82ee" stroke-width="1.05" stroke-linejoin="miter"/>
<polygon points="113.97,37.20 111.17,42.80 116.77,42.80" fill="none" stroke="#ee82ee" stroke-width="1.05" stroke-linejoin="miter"/>
<polygon points="134.95,57.60 132.15,63.20 137.75,63.20" fill="none" stroke="#ee82ee" stroke-width="1.05" stroke-linejoin="miter"/>
<polygon points="155.94,87.10 153.14,92.70 158.74,92.70" fill="none" stroke="#ee82ee" stroke-width="1.05" stroke-linejoin="miter"/>
<polygon points="176.92,107.50 174.12,113.10 179.72,113.10" fill="none" stroke="#ee82ee" stroke-width="1.05" stroke-linejoin="miter"/>
<polygon points="197.90,116.20 195.10,121.80 200.70,121.80" fill="none" stroke="#ee82ee" stroke-width="1.05" stroke-linejoin="miter"/>
<rect x="79.70" y="19.50" width="5.60" height="5.60" fill="none" stroke="#ee82ee" stroke-width="1.05"/>
<rect x="100.68" y="29.50" width="5.60" height="5.60" fill="none" stroke="#ee82ee" stroke-width="1.05"/>
<rect x="121.66" y="49.70" width="5.60" height="5.60" fill="none" stroke="#ee82ee" stroke-width="1.05"/>
<rect x="142.65" y="69.40" width="5.60" height="5.60" fill="none" stroke="#ee82ee" stroke-width="1.05"/>
<rect x="163.63" y="91.70" width="5.60" height="5.60" fill="none" stroke="#ee82ee" stroke-width="1.05"/>
<rect x="184.61" y="102.00" width="5.60" height="5.60" fill="none" stroke="#ee82ee" stroke-width="1.05"/>
<rect x="205.59" y="118.20" width="5.60" height="5.60" fill="none" stroke="#ee82ee" stroke-width="1.05"/>
<rect x="226.57" y="123.80" width="5.60" height="5.60" fill="none" stroke="#ee82ee" stroke-width="1.05"/>
<circle cx="113.97" cy="44.60" r="2.80" fill="none" stroke="#ee82ee" stroke-width="1.05"/>
<circle cx="134.95" cy="57.00" r="2.80" fill="none" stroke="#ee82ee" stroke-width="1.05"/>
<circle cx="155.94" cy="81.40" r="2.80" fill="none" stroke="#ee82ee" stroke-width="1.05"/>
<circle cx="176.92" cy="101.60" r="2.80" fill="none" stroke="#ee82ee" stroke-width="1.05"/>
<circle cx="197.90" cy="113.50" r="2.80" fill="none" stroke="#ee82ee" stroke-width="1.05"/>
<circle cx="218.88" cy="122.60" r="2.80" fill="none" stroke="#ee82ee" stroke-width="1.05"/>
<circle cx="239.86" cy="128.80" r="2.80" fill="none" stroke="#ee82ee" stroke-width="1.05"/>
<circle cx="260.85" cy="129.80" r="2.80" fill="none" stroke="#ee82ee" stroke-width="1.05"/>
<polygon points="145.45,66.24 147.82,70.20 145.45,74.16 143.07,70.20" fill="none" stroke="#ee82ee" stroke-width="1.05" stroke-linejoin="round"/>
<polygon points="166.43,87.74 168.80,91.70 166.43,95.66 164.05,91.70" fill="none" stroke="#ee82ee" stroke-width="1.05" stroke-linejoin="round"/>
<polygon points="187.41,108.64 189.78,112.60 187.41,116.56 185.03,112.60" fill="none" stroke="#ee82ee" stroke-width="1.05" stroke-linejoin="round"/>
<polygon points="208.39,117.54 210.77,121.50 208.39,125.46 206.02,121.50" fill="none" stroke="#ee82ee" stroke-width="1.05" stroke-linejoin="round"/>
<polygon points="229.37,126.44 231.75,130.40 229.37,134.36 227.00,130.40" fill="none" stroke="#ee82ee" stroke-width="1.05" stroke-linejoin="round"/>
<polygon points="250.35,128.24 252.73,132.20 250.35,136.16 247.98,132.20" fill="none" stroke="#ee82ee" stroke-width="1.05" stroke-linejoin="round"/>
<polygon points="271.34,130.34 273.71,134.30 271.34,138.26 268.96,134.30" fill="none" stroke="#ee82ee" stroke-width="1.05" stroke-linejoin="round"/>
<polygon points="292.32,131.24 294.69,135.20 292.32,139.16 289.94,135.20" fill="none" stroke="#ee82ee" stroke-width="1.05" stroke-linejoin="round"/>
<polygon points="176.92,98.80 179.58,100.73 178.56,103.87 175.27,103.87 174.26,100.73" fill="none" stroke="#ee82ee" stroke-width="1.05"/>
<polygon points="197.90,115.20 200.56,117.13 199.55,120.27 196.25,120.27 195.24,117.13" fill="none" stroke="#ee82ee" stroke-width="1.05"/>
<polygon points="218.88,133.50 221.54,135.43 220.53,138.57 217.24,138.57 216.22,135.43" fill="none" stroke="#ee82ee" stroke-width="1.05"/>
<polygon points="239.86,136.80 242.53,138.73 241.51,141.87 238.22,141.87 237.20,138.73" fill="none" stroke="#ee82ee" stroke-width="1.05"/>
<polygon points="260.85,134.90 263.51,136.83 262.49,139.97 259.20,139.97 258.18,136.83" fill="none" stroke="#ee82ee" stroke-width="1.05"/>
<polygon points="281.83,133.30 284.49,135.23 283.47,138.37 280.18,138.37 279.16,135.23" fill="none" stroke="#ee82ee" stroke-width="1.05"/>
<polygon points="302.81,134.20 305.47,136.13 304.45,139.27 301.16,139.27 300.15,136.13" fill="none" stroke="#ee82ee" stroke-width="1.05"/>
<polygon points="323.79,133.30 326.45,135.23 325.44,138.37 322.14,138.37 321.13,135.23" fill="none" stroke="#ee82ee" stroke-width="1.05"/>
<polygon points="389.17,208.70 386.37,214.30 391.97,214.30" fill="none" stroke="#008000" stroke-width="1.05" stroke-linejoin="miter"/>
<polygon points="410.31,208.70 407.51,214.30 413.11,214.30" fill="none" stroke="#008000" stroke-width="1.05" stroke-linejoin="miter"/>
<polygon points="431.44,208.70 428.64,214.30 434.24,214.30" fill="none" stroke="#008000" stroke-width="1.05" stroke-linejoin="miter"/>
<polygon points="452.57,208.40 449.77,214.00 455.37,214.00" fill="none" stroke="#008000" stroke-width="1.05" stroke-linejoin="miter"/>
<polygon points="473.70,208.20 470.90,213.80 476.50,213.80" fill="none" stroke="#008000" stroke-width="1.05" stroke-linejoin="miter"/>
<polygon points="494.84,206.90 492.04,212.50 497.64,212.50" fill="none" stroke="#008000" stroke-width="1.05" stroke-linejoin="miter"/>
<polygon points="515.97,202.90 513.17,208.50 518.77,208.50" fill="none" stroke="#008000" stroke-width="1.05" stroke-linejoin="miter"/>
<polygon points="537.10,198.50 534.30,204.10 539.90,204.10" fill="none" stroke="#008000" stroke-width="1.05" stroke-linejoin="miter"/>
<rect x="418.07" y="208.70" width="5.60" height="5.60" fill="none" stroke="#008000" stroke-width="1.05"/>
<rect x="439.20" y="208.40" width="5.60" height="5.60" fill="none" stroke="#008000" stroke-width="1.05"/>
<rect x="460.34" y="208.40" width="5.60" height="5.60" fill="none" stroke="#008000" stroke-width="1.05"/>
<rect x="481.47" y="207.90" width="5.60" height="5.60" fill="none" stroke="#008000" stroke-width="1.05"/>
<rect x="502.60" y="207.60" width="5.60" height="5.60" fill="none" stroke="#008000" stroke-width="1.05"/>
<rect x="523.73" y="205.80" width="5.60" height="5.60" fill="none" stroke="#008000" stroke-width="1.05"/>
<rect x="544.87" y="198.80" width="5.60" height="5.60" fill="none" stroke="#008000" stroke-width="1.05"/>
<rect x="566.00" y="187.90" width="5.60" height="5.60" fill="none" stroke="#008000" stroke-width="1.05"/>
<circle cx="452.57" cy="211.20" r="2.80" fill="none" stroke="#008000" stroke-width="1.05"/>
<circle cx="473.70" cy="210.70" r="2.80" fill="none" stroke="#008000" stroke-width="1.05"/>
<circle cx="494.84" cy="211.10" r="2.80" fill="none" stroke="#008000" stroke-width="1.05"/>
<circle cx="515.97" cy="209.30" r="2.80" fill="none" stroke="#008000" stroke-width="1.05"/>
<circle cx="537.10" cy="207.40" r="2.80" fill="none" stroke="#008000" stroke-width="1.05"/>
<circle cx="558.23" cy="199.40" r="2.80" fill="none" stroke="#008000" stroke-width="1.05"/>
<circle cx="579.36" cy="190.60" r="2.80" fill="none" stroke="#008000" stroke-width="1.05"/>
<circle cx="600.50" cy="185.60" r="2.80" fill="none" stroke="#008000" stroke-width="1.05"/>
<polygon points="484.27,207.04 486.65,211.00 484.27,214.96 481.89,211.00" fill="none" stroke="#008000" stroke-width="1.05" stroke-linejoin="round"/>
<polygon points="505.40,206.44 507.78,210.40 505.40,214.36 503.03,210.40" fill="none" stroke="#008000" stroke-width="1.05" stroke-linejoin="round"/>
<polygon points="526.53,206.04 528.91,210.00 526.53,213.96 524.16,210.00" fill="none" stroke="#008000" stroke-width="1.05" stroke-linejoin="round"/>
<polygon points="547.67,203.64 550.04,207.60 547.67,211.56 545.29,207.60" fill="none" stroke="#008000" stroke-width="1.05" stroke-linejoin="round"/>
<polygon points="568.80,194.44 571.17,198.40 568.80,202.36 566.42,198.40" fill="none" stroke="#008000" stroke-width="1.05" stroke-linejoin="round"/>
<polygon points="589.93,185.94 592.31,189.90 589.93,193.86 587.55,189.90" fill="none" stroke="#008000" stroke-width="1.05" stroke-linejoin="round"/>
<polygon points="611.06,180.74 613.44,184.70 611.06,188.66 608.69,184.70" fill="none" stroke="#008000" stroke-width="1.05" stroke-linejoin="round"/>
<polygon points="632.20,178.94 634.57,182.90 632.20,186.86 629.82,182.90" fill="none" stroke="#008000" stroke-width="1.05" stroke-linejoin="round"/>
<polygon points="515.97,207.70 518.63,209.63 517.61,212.77 514.32,212.77 513.30,209.63" fill="none" stroke="#008000" stroke-width="1.05"/>
<polygon points="537.10,205.00 539.76,206.93 538.75,210.07 535.45,210.07 534.44,206.93" fill="none" stroke="#008000" stroke-width="1.05"/>
<polygon points="558.23,203.00 560.90,204.93 559.88,208.07 556.59,208.07 555.57,204.93" fill="none" stroke="#008000" stroke-width="1.05"/>
<polygon points="579.36,195.10 582.03,197.03 581.01,200.17 577.72,200.17 576.70,197.03" fill="none" stroke="#008000" stroke-width="1.05"/>
<polygon points="600.50,186.10 603.16,188.03 602.14,191.17 598.85,191.17 597.83,188.03" fill="none" stroke="#008000" stroke-width="1.05"/>
<polygon points="621.63,180.10 624.29,182.03 623.28,185.17 619.98,185.17 618.97,182.03" fill="none" stroke="#008000" stroke-width="1.05"/>
<polygon points="642.76,178.60 645.42,180.53 644.41,183.67 641.12,183.67 640.10,180.53" fill="none" stroke="#008000" stroke-width="1.05"/>
<polygon points="663.89,177.70 666.56,179.63 665.54,182.77 662.25,182.77 661.23,179.63" fill="none" stroke="#008000" stroke-width="1.05"/>
<polygon points="389.17,208.90 386.37,214.50 391.97,214.50" fill="none" stroke="#0000ff" stroke-width="1.05" stroke-linejoin="miter"/>
<polygon points="410.31,208.90 407.51,214.50 413.11,214.50" fill="none" stroke="#0000ff" stroke-width="1.05" stroke-linejoin="miter"/>
<polygon points="431.44,208.90 428.64,214.50 434.24,214.50" fill="none" stroke="#0000ff" stroke-width="1.05" stroke-linejoin="miter"/>
<polygon points="452.57,206.90 449.77,212.50 455.37,212.50" fill="none" stroke="#0000ff" stroke-width="1.05" stroke-linejoin="miter"/>
<polygon points="473.70,204.00 470.90,209.60 476.50,209.60" fill="none" stroke="#0000ff" stroke-width="1.05" stroke-linejoin="miter"/>
<polygon points="494.84,192.50 492.04,198.10 497.64,198.10" fill="none" stroke="#0000ff" stroke-width="1.05" stroke-linejoin="miter"/>
<polygon points="515.97,174.70 513.17,180.30 518.77,180.30" fill="none" stroke="#0000ff" stroke-width="1.05" stroke-linejoin="miter"/>
<polygon points="537.10,158.20 534.30,163.80 539.90,163.80" fill="none" stroke="#0000ff" stroke-width="1.05" stroke-linejoin="miter"/>
<rect x="418.07" y="208.00" width="5.60" height="5.60" fill="none" stroke="#0000ff" stroke-width="1.05"/>
<rect x="439.20" y="207.40" width="5.60" height="5.60" fill="none" stroke="#0000ff" stroke-width="1.05"/>
<rect x="460.34" y="206.90" width="5.60" height="5.60" fill="none" stroke="#0000ff" stroke-width="1.05"/>
<rect x="481.47" y="202.00" width="5.60" height="5.60" fill="none" stroke="#0000ff" stroke-width="1.05"/>
<rect x="502.60" y="191.50" width="5.60" height="5.60" fill="none" stroke="#0000ff" stroke-width="1.05"/>
<rect x="523.73" y="173.40" width="5.60" height="5.60" fill="none" stroke="#0000ff" stroke-width="1.05"/>
<rect x="544.87" y="158.80" width="5.60" height="5.60" fill="none" stroke="#0000ff" stroke-width="1.05"/>
<rect x="566.00" y="149.20" width="5.60" height="5.60" fill="none" stroke="#0000ff" stroke-width="1.05"/>
<circle cx="452.57" cy="209.70" r="2.80" fill="none" stroke="#0000ff" stroke-width="1.05"/>
<circle cx="473.70" cy="208.70" r="2.80" fill="none" stroke="#0000ff" stroke-width="1.05"/>
<circle cx="494.84" cy="203.80" r="2.80" fill="none" stroke="#0000ff" stroke-width="1.05"/>
<circle cx="515.97" cy="193.60" r="2.80" fill="none" stroke="#0000ff" stroke-width="1.05"/>
<circle cx="537.10" cy="174.20" r="2.80" fill="none" stroke="#0000ff" stroke-width="1.05"/>
<circle cx="558.23" cy="160.30" r="2.80" fill="none" stroke="#0000ff" stroke-width="1.05"/>
<circle cx="579.36" cy="147.40" r="2.80" fill="none" stroke="#0000ff" stroke-width="1.05"/>
<circle cx="600.50" cy="143.90" r="2.80" fill="none" stroke="#0000ff" stroke-width="1.05"/>
<polygon points="484.27,201.54 486.65,205.50 484.27,209.46 481.89,205.50" fill="none" stroke="#0000ff" stroke-width="1.05" stroke-linejoin="round"/>
<polygon points="505.40,196.04 507.78,200.00 505.40,203.96 503.03,200.00" fill="none" stroke="#0000ff" stroke-width="1.05" stroke-linejoin="round"/>
<polygon points="526.53,184.44 528.91,188.40 526.53,192.36 524.16,188.40" fill="none" stroke="#0000ff" stroke-width="1.05" stroke-linejoin="round"/>
<polygon points="547.67,167.64 550.04,171.60 547.67,175.56 545.29,171.60" fill="none" stroke="#0000ff" stroke-width="1.05" stroke-linejoin="round"/>
<polygon points="568.80,150.84 571.17,154.80 568.80,158.76 566.42,154.80" fill="none" stroke="#0000ff" stroke-width="1.05" stroke-linejoin="round"/>
<polygon points="589.93,142.24 592.31,146.20 589.93,150.16 587.55,146.20" fill="none" stroke="#0000ff" stroke-width="1.05" stroke-linejoin="round"/>
<polygon points="611.06,139.34 613.44,143.30 611.06,147.26 608.69,143.30" fill="none" stroke="#0000ff" stroke-width="1.05" stroke-linejoin="round"/>
<polygon points="632.20,137.94 634.57,141.90 632.20,145.86 629.82,141.90" fill="none" stroke="#0000ff" stroke-width="1.05" stroke-linejoin="round"/>
<polygon points="515.97,193.60 518.63,195.53 517.61,198.67 514.32,198.67 513.30,195.53" fill="none" stroke="#0000ff" stroke-width="1.05"/>
<polygon points="537.10,180.70 539.76,182.63 538.75,185.77 535.45,185.77 534.44,182.63" fill="none" stroke="#0000ff" stroke-width="1.05"/>
<polygon points="558.23,163.90 560.90,165.83 559.88,168.97 556.59,168.97 555.57,165.83" fill="none" stroke="#0000ff" stroke-width="1.05"/>
<polygon points="579.36,147.90 582.03,149.83 581.01,152.97 577.72,152.97 576.70,149.83" fill="none" stroke="#0000ff" stroke-width="1.05"/>
<polygon points="600.50,142.20 603.16,144.13 602.14,147.27 598.85,147.27 597.83,144.13" fill="none" stroke="#0000ff" stroke-width="1.05"/>
<polygon points="621.63,136.90 624.29,138.83 623.28,141.97 619.98,141.97 618.97,138.83" fill="none" stroke="#0000ff" stroke-width="1.05"/>
<polygon points="642.76,136.50 645.42,138.43 644.41,141.57 641.12,141.57 640.10,138.43" fill="none" stroke="#0000ff" stroke-width="1.05"/>
<polygon points="663.89,135.50 666.56,137.43 665.54,140.57 662.25,140.57 661.23,137.43" fill="none" stroke="#0000ff" stroke-width="1.05"/>
<polygon points="389.17,205.50 386.37,211.10 391.97,211.10" fill="none" stroke="#ff0000" stroke-width="1.05" stroke-linejoin="miter"/>
<polygon points="410.31,206.60 407.51,212.20 413.11,212.20" fill="none" stroke="#ff0000" stroke-width="1.05" stroke-linejoin="miter"/>
<polygon points="431.44,206.10 428.64,211.70 434.24,211.70" fill="none" stroke="#ff0000" stroke-width="1.05" stroke-linejoin="miter"/>
<polygon points="452.57,200.00 449.77,205.60 455.37,205.60" fill="none" stroke="#ff0000" stroke-width="1.05" stroke-linejoin="miter"/>
<polygon points="473.70,181.20 470.90,186.80 476.50,186.80" fill="none" stroke="#ff0000" stroke-width="1.05" stroke-linejoin="miter"/>
<polygon points="494.84,157.70 492.04,163.30 497.64,163.30" fill="none" stroke="#ff0000" stroke-width="1.05" stroke-linejoin="miter"/>
<polygon points="515.97,139.90 513.17,145.50 518.77,145.50" fill="none" stroke="#ff0000" stroke-width="1.05" stroke-linejoin="miter"/>
<polygon points="537.10,124.90 534.30,130.50 539.90,130.50" fill="none" stroke="#ff0000" stroke-width="1.05" stroke-linejoin="miter"/>
<rect x="418.07" y="201.50" width="5.60" height="5.60" fill="none" stroke="#ff0000" stroke-width="1.05"/>
<rect x="439.20" y="200.40" width="5.60" height="5.60" fill="none" stroke="#ff0000" stroke-width="1.05"/>
<rect x="460.34" y="193.40" width="5.60" height="5.60" fill="none" stroke="#ff0000" stroke-width="1.05"/>
<rect x="481.47" y="178.70" width="5.60" height="5.60" fill="none" stroke="#ff0000" stroke-width="1.05"/>
<rect x="502.60" y="156.40" width="5.60" height="5.60" fill="none" stroke="#ff0000" stroke-width="1.05"/>
<rect x="523.73" y="136.90" width="5.60" height="5.60" fill="none" stroke="#ff0000" stroke-width="1.05"/>
<rect x="544.87" y="124.20" width="5.60" height="5.60" fill="none" stroke="#ff0000" stroke-width="1.05"/>
<rect x="566.00" y="116.50" width="5.60" height="5.60" fill="none" stroke="#ff0000" stroke-width="1.05"/>
<circle cx="452.57" cy="196.20" r="2.80" fill="none" stroke="#ff0000" stroke-width="1.05"/>
<circle cx="473.70" cy="190.50" r="2.80" fill="none" stroke="#ff0000" stroke-width="1.05"/>
<circle cx="494.84" cy="177.00" r="2.80" fill="none" stroke="#ff0000" stroke-width="1.05"/>
<circle cx="515.97" cy="154.50" r="2.80" fill="none" stroke="#ff0000" stroke-width="1.05"/>
<circle cx="537.10" cy="135.50" r="2.80" fill="none" stroke="#ff0000" stroke-width="1.05"/>
<circle cx="558.23" cy="123.60" r="2.80" fill="none" stroke="#ff0000" stroke-width="1.05"/>
<circle cx="579.36" cy="115.20" r="2.80" fill="none" stroke="#ff0000" stroke-width="1.05"/>
<circle cx="600.50" cy="111.20" r="2.80" fill="none" stroke="#ff0000" stroke-width="1.05"/>
<polygon points="484.27,179.64 486.65,183.60 484.27,187.56 481.89,183.60" fill="none" stroke="#ff0000" stroke-width="1.05" stroke-linejoin="round"/>
<polygon points="505.40,165.84 507.78,169.80 505.40,173.76 503.03,169.80" fill="none" stroke="#ff0000" stroke-width="1.05" stroke-linejoin="round"/>
<polygon points="526.53,144.84 528.91,148.80 526.53,152.76 524.16,148.80" fill="none" stroke="#ff0000" stroke-width="1.05" stroke-linejoin="round"/>
<polygon points="547.67,125.54 550.04,129.50 547.67,133.46 545.29,129.50" fill="none" stroke="#ff0000" stroke-width="1.05" stroke-linejoin="round"/>
<polygon points="568.80,114.04 571.17,118.00 568.80,121.96 566.42,118.00" fill="none" stroke="#ff0000" stroke-width="1.05" stroke-linejoin="round"/>
<polygon points="589.93,108.54 592.31,112.50 589.93,116.46 587.55,112.50" fill="none" stroke="#ff0000" stroke-width="1.05" stroke-linejoin="round"/>
<polygon points="611.06,106.74 613.44,110.70 611.06,114.66 608.69,110.70" fill="none" stroke="#ff0000" stroke-width="1.05" stroke-linejoin="round"/>
<polygon points="632.20,106.14 634.57,110.10 632.20,114.06 629.82,110.10" fill="none" stroke="#ff0000" stroke-width="1.05" stroke-linejoin="round"/>
<polygon points="515.97,156.90 518.63,158.83 517.61,161.97 514.32,161.97 513.30,158.83" fill="none" stroke="#ff0000" stroke-width="1.05"/>
<polygon points="537.10,138.90 539.76,140.83 538.75,143.97 535.45,143.97 534.44,140.83" fill="none" stroke="#ff0000" stroke-width="1.05"/>
<polygon points="558.23,121.00 560.90,122.93 559.88,126.07 556.59,126.07 555.57,122.93" fill="none" stroke="#ff0000" stroke-width="1.05"/>
<polygon points="579.36,110.60 582.03,112.53 581.01,115.67 577.72,115.67 576.70,112.53" fill="none" stroke="#ff0000" stroke-width="1.05"/>
<polygon points="600.50,106.50 603.16,108.43 602.14,111.57 598.85,111.57 597.83,108.43" fill="none" stroke="#ff0000" stroke-width="1.05"/>
<polygon points="621.63,105.40 624.29,107.33 623.28,110.47 619.98,110.47 618.97,107.33" fill="none" stroke="#ff0000" stroke-width="1.05"/>
<polygon points="642.76,105.40 645.42,107.33 644.41,110.47 641.12,110.47 640.10,107.33" fill="none" stroke="#ff0000" stroke-width="1.05"/>
<polygon points="663.89,103.60 666.56,105.53 665.54,108.67 662.25,108.67 661.23,105.53" fill="none" stroke="#ff0000" stroke-width="1.05"/>
<polygon points="389.17,105.00 386.37,110.60 391.97,110.60" fill="none" stroke="#ee82ee" stroke-width="1.05" stroke-linejoin="miter"/>
<polygon points="410.31,103.20 407.51,108.80 413.11,108.80" fill="none" stroke="#ee82ee" stroke-width="1.05" stroke-linejoin="miter"/>
<polygon points="431.44,94.60 428.64,100.20 434.24,100.20" fill="none" stroke="#ee82ee" stroke-width="1.05" stroke-linejoin="miter"/>
<polygon points="452.57,79.60 449.77,85.20 455.37,85.20" fill="none" stroke="#ee82ee" stroke-width="1.05" stroke-linejoin="miter"/>
<polygon points="473.70,66.00 470.90,71.60 476.50,71.60" fill="none" stroke="#ee82ee" stroke-width="1.05" stroke-linejoin="miter"/>
<polygon points="494.84,53.10 492.04,58.70 497.64,58.70" fill="none" stroke="#ee82ee" stroke-width="1.05" stroke-linejoin="miter"/>
<polygon points="515.97,44.20 513.17,49.80 518.77,49.80" fill="none" stroke="#ee82ee" stroke-width="1.05" stroke-linejoin="miter"/>
<polygon points="537.10,37.90 534.30,43.50 539.90,43.50" fill="none" stroke="#ee82ee" stroke-width="1.05" stroke-linejoin="miter"/>
<rect x="418.07" y="94.30" width="5.60" height="5.60" fill="none" stroke="#ee82ee" stroke-width="1.05"/>
<rect x="439.20" y="85.10" width="5.60" height="5.60" fill="none" stroke="#ee82ee" stroke-width="1.05"/>
<rect x="460.34" y="72.50" width="5.60" height="5.60" fill="none" stroke="#ee82ee" stroke-width="1.05"/>
<rect x="481.47" y="59.70" width="5.60" height="5.60" fill="none" stroke="#ee82ee" stroke-width="1.05"/>
<rect x="502.60" y="49.40" width="5.60" height="5.60" fill="none" stroke="#ee82ee" stroke-width="1.05"/>
<rect x="523.73" y="41.90" width="5.60" height="5.60" fill="none" stroke="#ee82ee" stroke-width="1.05"/>
<rect x="544.87" y="35.10" width="5.60" height="5.60" fill="none" stroke="#ee82ee" stroke-width="1.05"/>
<rect x="566.00" y="33.40" width="5.60" height="5.60" fill="none" stroke="#ee82ee" stroke-width="1.05"/>
<circle cx="452.57" cy="79.80" r="2.80" fill="none" stroke="#ee82ee" stroke-width="1.05"/>
<circle cx="473.70" cy="67.80" r="2.80" fill="none" stroke="#ee82ee" stroke-width="1.05"/>
<circle cx="494.84" cy="55.90" r="2.80" fill="none" stroke="#ee82ee" stroke-width="1.05"/>
<circle cx="515.97" cy="44.60" r="2.80" fill="none" stroke="#ee82ee" stroke-width="1.05"/>
<circle cx="537.10" cy="39.80" r="2.80" fill="none" stroke="#ee82ee" stroke-width="1.05"/>
<circle cx="558.23" cy="36.70" r="2.80" fill="none" stroke="#ee82ee" stroke-width="1.05"/>
<circle cx="579.36" cy="33.80" r="2.80" fill="none" stroke="#ee82ee" stroke-width="1.05"/>
<circle cx="600.50" cy="32.50" r="2.80" fill="none" stroke="#ee82ee" stroke-width="1.05"/>
<polygon points="484.27,56.54 486.65,60.50 484.27,64.46 481.89,60.50" fill="none" stroke="#ee82ee" stroke-width="1.05" stroke-linejoin="round"/>
<polygon points="505.40,45.44 507.78,49.40 505.40,53.36 503.03,49.40" fill="none" stroke="#ee82ee" stroke-width="1.05" stroke-linejoin="round"/>
<polygon points="526.53,33.94 528.91,37.90 526.53,41.86 524.16,37.90" fill="none" stroke="#ee82ee" stroke-width="1.05" stroke-linejoin="round"/>
<polygon points="547.67,30.34 550.04,34.30 547.67,38.26 545.29,34.30" fill="none" stroke="#ee82ee" stroke-width="1.05" stroke-linejoin="round"/>
<polygon points="568.80,28.94 571.17,32.90 568.80,36.86 566.42,32.90" fill="none" stroke="#ee82ee" stroke-width="1.05" stroke-linejoin="round"/>
<polygon points="589.93,28.14 592.31,32.10 589.93,36.06 587.55,32.10" fill="none" stroke="#ee82ee" stroke-width="1.05" stroke-linejoin="round"/>
<polygon points="611.06,27.84 613.44,31.80 611.06,35.76 608.69,31.80" fill="none" stroke="#ee82ee" stroke-width="1.05" stroke-linejoin="round"/>
<polygon points="632.20,27.34 634.57,31.30 632.20,35.26 629.82,31.30" fill="none" stroke="#ee82ee" stroke-width="1.05" stroke-linejoin="round"/>
<polygon points="515.97,37.00 518.63,38.93 517.61,42.07 514.32,42.07 513.30,38.93" fill="none" stroke="#ee82ee" stroke-width="1.05"/>
<polygon points="537.10,27.80 539.76,29.73 538.75,32.87 535.45,32.87 534.44,29.73" fill="none" stroke="#ee82ee" stroke-width="1.05"/>
<polygon points="558.23,23.80 560.90,25.73 559.88,28.87 556.59,28.87 555.57,25.73" fill="none" stroke="#ee82ee" stroke-width="1.05"/>
<polygon points="579.36,24.40 582.03,26.33 581.01,29.47 577.72,29.47 576.70,26.33" fill="none" stroke="#ee82ee" stroke-width="1.05"/>
<polygon points="600.50,26.70 603.16,28.63 602.14,31.77 598.85,31.77 597.83,28.63" fill="none" stroke="#ee82ee" stroke-width="1.05"/>
<polygon points="621.63,27.70 624.29,29.63 623.28,32.77 619.98,32.77 618.97,29.63" fill="none" stroke="#ee82ee" stroke-width="1.05"/>
<polygon points="642.76,27.20 645.42,29.13 644.41,32.27 641.12,32.27 640.10,29.13" fill="none" stroke="#ee82ee" stroke-width="1.05"/>
<polygon points="663.89,27.40 666.56,29.33 665.54,32.47 662.25,32.47 661.23,29.33" fill="none" stroke="#ee82ee" stroke-width="1.05"/>
<line x1="253.2" y1="17.70" x2="274.9" y2="17.70" stroke="#008000" stroke-width="1.4"/>
<text x="282.6" y="21.30" class="leg">Φ</text>
<path d="M292.1 17.25H298.2M292.1 19.55H298.2" stroke="#000" stroke-width="0.8"/>
<text x="299.5" y="21.30" class="leg">0.0625</text>
<line x1="253.2" y1="27.77" x2="274.9" y2="27.77" stroke="#0000ff" stroke-width="1.4"/>
<text x="282.6" y="31.37" class="leg">Φ</text>
<path d="M292.1 27.32H298.2M292.1 29.62H298.2" stroke="#000" stroke-width="0.8"/>
<text x="299.5" y="31.37" class="leg">0.165</text>
<line x1="253.2" y1="37.84" x2="274.9" y2="37.84" stroke="#ff0000" stroke-width="1.4"/>
<text x="282.6" y="41.44" class="leg">Φ</text>
<path d="M292.1 37.39H298.2M292.1 39.69H298.2" stroke="#000" stroke-width="0.8"/>
<text x="299.5" y="41.44" class="leg">0.25</text>
<line x1="253.2" y1="47.91" x2="274.9" y2="47.91" stroke="#ee82ee" stroke-width="1.4"/>
<text x="282.6" y="51.51" class="leg">Φ</text>
<path d="M292.1 47.46H298.2M292.1 49.76H298.2" stroke="#000" stroke-width="0.8"/>
<text x="299.5" y="51.51" class="leg">0.5625</text>
<polygon points="56.70,154.80 54.10,160.00 59.30,160.00" fill="none" stroke="#000" stroke-width="1.1" stroke-linejoin="miter"/>
<text x="75.0" y="160.60" class="leg2">Pe=1</text>
<rect x="54.10" y="164.98" width="5.20" height="5.20" fill="none" stroke="#000" stroke-width="1.1"/>
<text x="75.0" y="170.78" class="leg2">Pe=2</text>
<circle cx="56.70" cy="177.76" r="2.60" fill="none" stroke="#000" stroke-width="1.1"/>
<text x="75.0" y="180.96" class="leg2">Pe=4</text>
<polygon points="56.70,184.26 58.91,187.94 56.70,191.62 54.49,187.94" fill="none" stroke="#000" stroke-width="1.1" stroke-linejoin="round"/>
<text x="75.0" y="191.14" class="leg2">Pe=8</text>
<polygon points="56.70,195.21 59.47,197.22 58.41,200.48 54.99,200.48 53.93,197.22" fill="none" stroke="#000" stroke-width="1.1"/>
<text x="75.0" y="201.32" class="leg2">Pe=16</text>
<text x="300.6" y="84.6" class="pl">(a)</text>
<text x="632.6" y="72.2" class="pl">(b)</text>
<text x="170.00" y="239.70" class="xl" font-style="italic">Pe</text>
<text x="182.40" y="236.20" class="xs">3/2</text>
<text x="192.90" y="239.70" class="xl" font-style="italic">/</text>
<text x="195.90" y="239.70" class="xl" font-size="12.2">Ω</text>
<text x="509.20" y="244.80" class="xl" font-style="italic">Pe</text>
<text x="521.60" y="241.30" class="xs">3/2</text>
<text x="532.10" y="244.80" class="xl" font-style="italic">/</text>
<text x="535.10" y="244.80" class="xl" font-size="12.2">Ω</text>
<text transform="translate(8.40,121.00) rotate(-90)" font-size="10.5" font-style="italic">d</text>
<text transform="translate(9.20,114.60) rotate(-90)" font-size="7.3">1</text>
<text transform="translate(8.40,106.20) rotate(-90)" font-size="10.5">/</text>
<text transform="translate(8.40,102.80) rotate(-90)" font-size="10.5" font-style="italic">d</text>
<text transform="translate(9.20,96.60) rotate(-90)" font-size="7.3">0</text>
<polyline points="0.8,121.2 5.8,124.6 10.8,121.2" fill="none" stroke="#000" stroke-width="0.75"/>
<polyline points="0.2,109.9 5.3,106.6 10.3,109.9" fill="none" stroke="#000" stroke-width="0.75"/>
<text transform="translate(353.20,133.80) rotate(-90)" font-size="10.5" font-style="italic">F</text>
<text transform="translate(353.20,127.80) rotate(-90)" font-size="10.5">(</text>
<text transform="translate(353.20,123.80) rotate(-90)" font-size="10.5" font-style="italic">d</text>
<text transform="translate(354.20,117.00) rotate(-90)" font-size="7.3">1</text>
<text transform="translate(353.90,111.40) rotate(-90)" font-size="12.5">&lt;</text>
<text transform="translate(353.20,102.80) rotate(-90)" font-size="10.5" font-style="italic">R</text>
<text transform="translate(353.80,94.80) rotate(-90)" font-size="7.3">0</text>
<text transform="translate(353.20,90.60) rotate(-90)" font-size="10.5">)</text>
<rect x="15.2" y="240" width="2" height="1" fill="#bbb"/>
<rect x="26.3" y="240" width="2" height="1" fill="#bbb"/>
</svg>
</body></html>
